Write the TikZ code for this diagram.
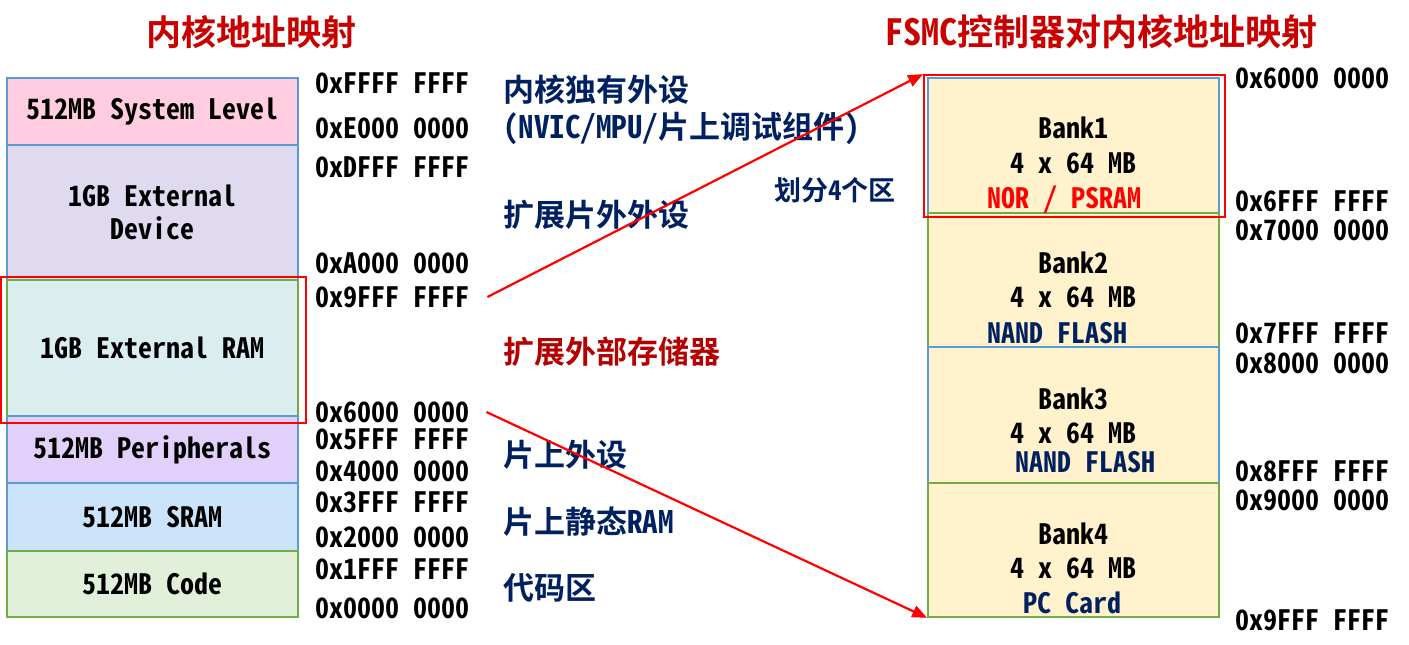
\documentclass[tikz,border=0pt]{standalone}
\usepackage{fontspec}
\setmainfont{Noto Sans CJK SC}[RawFeature=+hwid, BoldFont={Noto Sans CJK SC Bold}]
\usepackage{tikz}
\usetikzlibrary{arrows.meta}

\definecolor{edgeblue}{RGB}{91,155,213}
\definecolor{edgegreen}{RGB}{112,173,71}
\definecolor{sysfill}{RGB}{255,204,224}
\definecolor{devfill}{RGB}{224,218,240}
\definecolor{ramfill}{RGB}{218,238,240}
\definecolor{perfill}{RGB}{224,208,250}
\definecolor{sramfill}{RGB}{204,228,250}
\definecolor{codefill}{RGB}{226,240,217}
\definecolor{bankfill}{RGB}{255,242,204}
\definecolor{navy}{RGB}{0,32,96}
\definecolor{titlered}{RGB}{200,0,0}
\definecolor{darkred}{RGB}{180,0,0}

\begin{document}
\begin{tikzpicture}[x=1pt, y=-1pt,
		blk/.style={draw=edgeblue, line width=1.6pt, minimum width=291pt, inner sep=0pt, align=center, font=\fontsize{28}{33}\selectfont\bfseries},
		hex/.style={anchor=west, inner sep=0pt, font=\fontsize{28}{33}\selectfont\bfseries},
		note/.style={anchor=west, inner sep=0pt, text=navy, font=\fontsize{31}{38}\selectfont\bfseries},
		title/.style={inner sep=0pt, text=titlered, font=\fontsize{35}{40}\selectfont\bfseries},
		banktxt/.style={inner sep=0pt, font=\fontsize{28}{33}\selectfont\bfseries},
		redframe/.style={draw=red, line width=1.8pt, inner sep=0pt},
		redarrow/.style={draw=red, line width=2.2pt, -{Triangle[length=15pt,width=12pt]}}]
	\useasboundingbox (0,0) rectangle (1409,645);

	\node[title] (ltitle) at (251,32) {内核地址映射};
	\node[title, font=\fontsize{36}{40}\selectfont\bfseries] (rtitle) at (1101,32) {FSMC控制器对内核地址映射};

	\node[blk, fill=sysfill, minimum height=67pt] (sys) at (152.5,111.5) {512MB System Level};
	\node[blk, fill=devfill, minimum height=135pt] (dev) at (152.5,212.5) {1GB External\\Device};
	\node[blk, draw=edgegreen, fill=ramfill, minimum height=136pt] (ram) at (152.5,348) {1GB External RAM};
	\node[blk, fill=perfill, minimum height=67pt] (per) at (152.5,449.5) {512MB Peripherals};
	\node[blk, fill=sramfill, minimum height=68pt] (sram) at (152.5,517) {512MB SRAM};
	\node[blk, draw=edgegreen, fill=codefill, minimum height=66pt] (code) at (152.5,584) {512MB Code};
	\node[redframe, minimum width=305pt, minimum height=146pt] (ramframe) at (153.5,350) {};

	\node[hex] (hffff) at (315,83) {0xFFFF FFFF};
	\node[hex] (he000) at (315,128) {0xE000 0000};
	\node[hex] (hdfff) at (315,167) {0xDFFF FFFF};
	\node[hex] (ha000) at (315,263) {0xA000 0000};
	\node[hex] (h9fff) at (315,297) {0x9FFF FFFF};
	\node[hex] (h6000) at (315,412) {0x6000 0000};
	\node[hex] (h5fff) at (315,439) {0x5FFF FFFF};
	\node[hex] (h4000) at (315,471) {0x4000 0000};
	\node[hex] (h3fff) at (315,502) {0x3FFF FFFF};
	\node[hex] (h2000) at (315,537) {0x2000 0000};
	\node[hex] (h1fff) at (315,569) {0x1FFF FFFF};
	\node[hex] (h0000) at (315,608) {0x0000 0000};

	\node[note] (core) at (503,90) {内核独有外设};
	\node[note] (nvic) at (503,128) {(NVIC/MPU/片上调试组件)};
	\node[note] (extdev) at (503,215) {扩展片外外设};
	\node[note, text=darkred] (extmem) at (503,352) {扩展外部存储器};
	\node[note] (onper) at (503,455) {片上外设};
	\node[note] (onsram) at (503,522) {片上静态RAM};
	\node[note] (coderg) at (503,588) {代码区};
	\node[inner sep=0pt, text=navy, font=\fontsize{27}{30}\selectfont\bfseries] (split) at (835,190) {划分4个区};

	\node[blk, fill=bankfill, minimum height=135pt] (bank1) at (1073.5,145.5) {};
	\node[blk, draw=edgegreen, fill=bankfill, minimum height=134pt] (bank2) at (1073.5,280) {};
	\node[blk, fill=bankfill, minimum height=136pt] (bank3) at (1073.5,415) {};
	\node[blk, draw=edgegreen, fill=bankfill, minimum height=134pt] (bank4) at (1073.5,550) {};
	\node[redframe, minimum width=301pt, minimum height=142pt] (bankframe) at (1074.5,146) {};

	\node[banktxt] at (1073,128) {Bank1};
	\node[banktxt] at (1073,163) {4 x 64 MB};
	\node[banktxt, text=red] at (1064,200) {NOR / PSRAM};
	\node[banktxt] at (1073,263) {Bank2};
	\node[banktxt] at (1073,297) {4 x 64 MB};
	\node[banktxt, text=navy] at (1057,333) {NAND FLASH};
	\node[banktxt] at (1073,399) {Bank3};
	\node[banktxt] at (1073,433) {4 x 64 MB};
	\node[banktxt, text=navy] at (1085,462) {NAND FLASH};
	\node[banktxt] at (1073,534) {Bank4};
	\node[banktxt] at (1073,568) {4 x 64 MB};
	\node[banktxt, text=navy] at (1072,603) {PC Card};

	\node[hex] (r6000) at (1235,78) {0x6000 0000};
	\node[hex] (r6fff) at (1235,201) {0x6FFF FFFF};
	\node[hex] (r7000) at (1235,230) {0x7000 0000};
	\node[hex] (r7fff) at (1235,333) {0x7FFF FFFF};
	\node[hex] (r8000) at (1235,363) {0x8000 0000};
	\node[hex] (r8fff) at (1235,471) {0x8FFF FFFF};
	\node[hex] (r9000) at (1235,500) {0x9000 0000};
	\node[hex] (r9fff) at (1235,620) {0x9FFF FFFF};

	\draw[redarrow] ([xshift=18pt]h9fff.east) -- (bankframe.north west);
	\draw[redarrow] ([xshift=17pt]h6000.east) -- (bank4.south west);

\end{tikzpicture}
\end{document}
